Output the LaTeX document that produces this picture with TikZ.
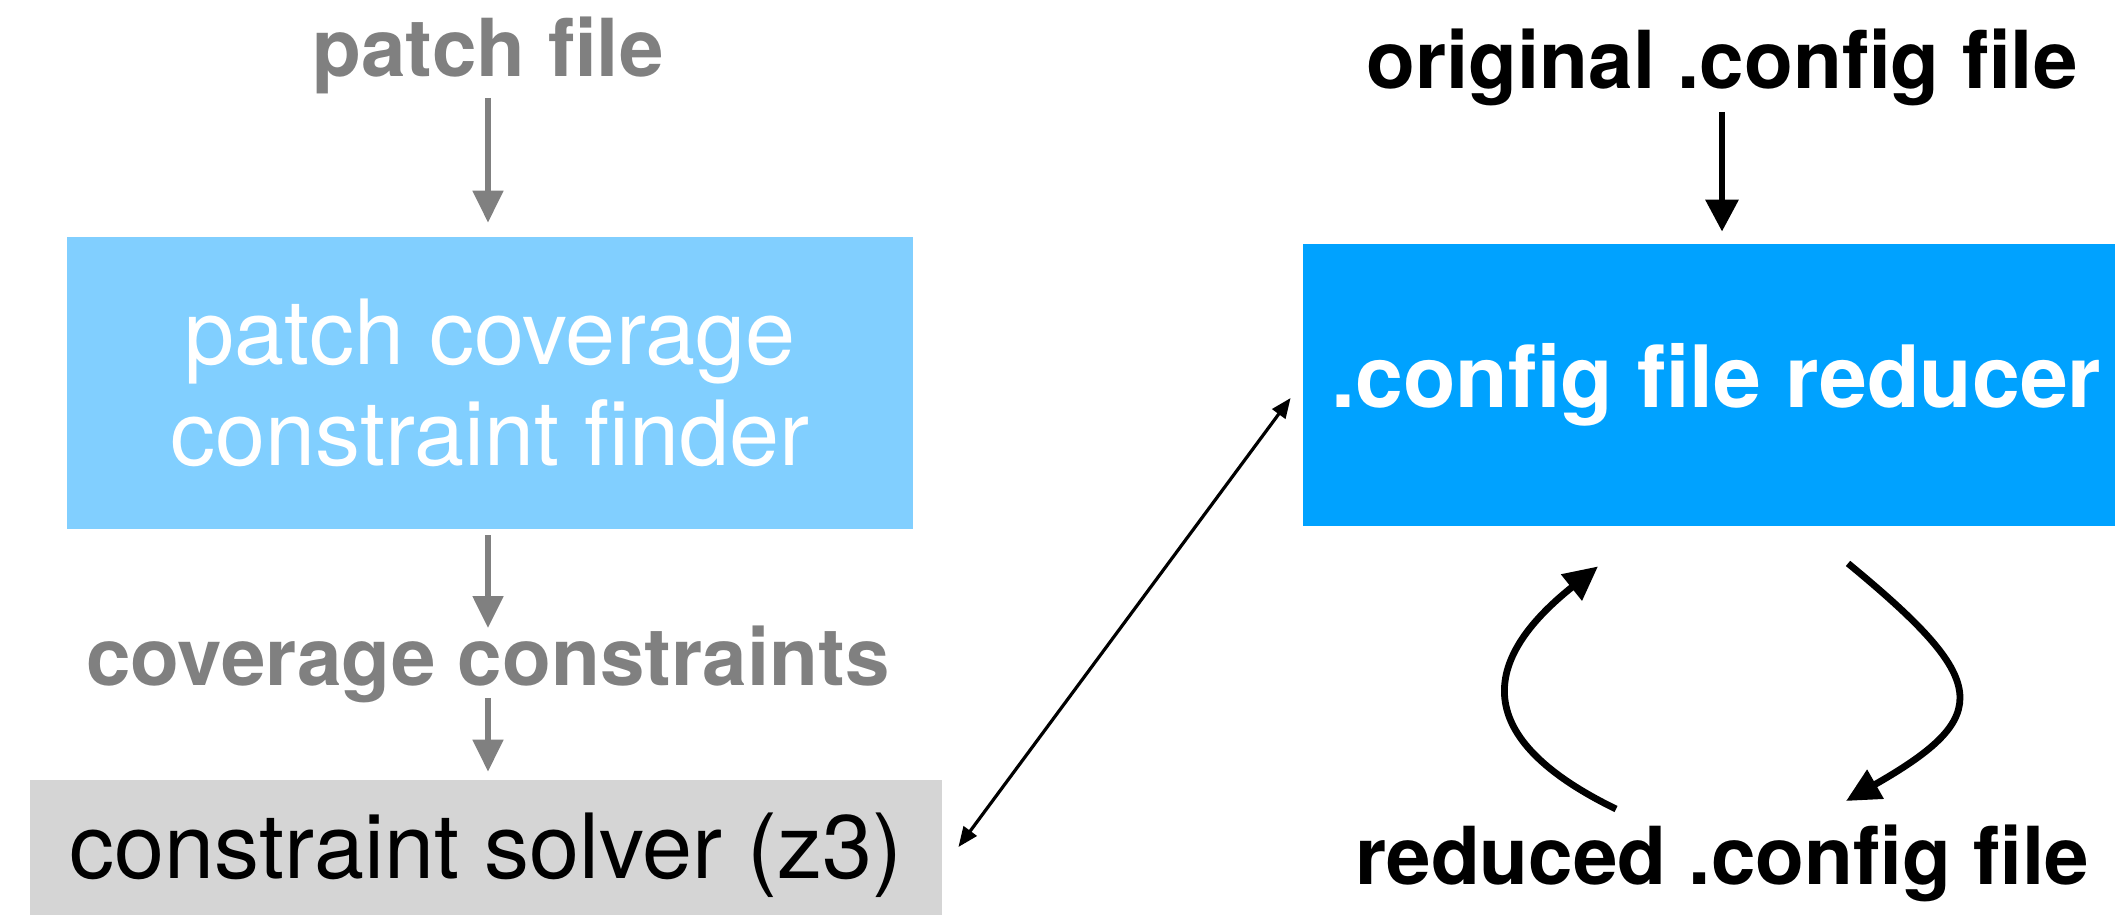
\documentclass[tikz,border=0pt]{standalone}
\usepackage{fontspec}
\setmainfont{TeX Gyre Heros}
\usepackage{tikz}
\usetikzlibrary{arrows.meta}

\definecolor{lightsky}{HTML}{81CFFF}
\definecolor{brightsky}{HTML}{00A2FF}
\definecolor{solvergray}{HTML}{D5D5D5}
\definecolor{labelgray}{HTML}{808080}

\begin{document}
\begin{tikzpicture}[x=0.5pt, y=-0.5pt,
  lbl/.style={inner sep=0pt, anchor=base, font=\fontsize{40}{48}\selectfont\bfseries},
  box/.style={inner sep=0pt, align=center, font=\fontsize{45}{50.5}\selectfont},
  garr/.style={-{Triangle[length=16pt, width=15pt]}, draw=labelgray, line width=2.6pt},
  barr/.style={-{Triangle[length=16pt, width=16pt]}, draw=black, line width=3.2pt},
  darr/.style={{Triangle[length=10pt, width=8pt]}-{Triangle[length=10pt, width=8pt]}, draw=black, line width=1.6pt},
  larr/.style={-{Triangle[length=17pt, width=16pt]}, draw=black, line width=3.4pt}]
\useasboundingbox (0,0) rectangle (2115,915);
% left column: patch side
\node[lbl, text=labelgray] (patchfile) at (488,77) {patch file};
\node[box, fill=lightsky, text=white, minimum width=423pt, minimum height=146pt] (finder) at (490,383) {patch coverage\\constraint finder};
\node[lbl, text=labelgray] (coverage) at (488,685) {coverage constraints};
\node[box, fill=solvergray, text=black, minimum width=456pt, minimum height=75pt] (solver) at (486,855) {constraint solver (z3)};
% right column: config side
\node[lbl] (original) at (1722,89) {original .config file};
\node[box, fill=brightsky, text=white, font=\fontsize{43}{48}\selectfont\bfseries, minimum width=413.5pt, minimum height=141pt] (reducer) at (1716.5,385) {.config file reducer};
\node[lbl] (reduced) at (1722,884) {reduced .config file};
\draw[garr] ([yshift=-1.5pt]patchfile.south) -- ([yshift=7pt]patchfile.south |- finder.north);
\draw[garr] ([yshift=-3pt]coverage.north |- finder.south) -- ([yshift=-1.5pt]coverage.north);
\draw[garr] ([yshift=2.5pt]coverage.south) -- ([yshift=4pt]coverage.south |- solver.north);
\draw[barr] ([yshift=-2.5pt]original.south) -- ([yshift=6pt]original.south |- reducer.north);
\draw[darr] ([xshift=8pt, yshift=4pt]solver.east) -- ([xshift=-6pt, yshift=-6.5pt]reducer.west);
% reduce loop
\draw[larr] ([shift={(-106,-15)}]reduced.north) .. controls +(-146,-71) and +(-118,94) .. ([shift={(-118.5,40)}]reducer.south);
\draw[larr] ([shift={(131.5,37)}]reducer.south) .. controls +(142,117) and +(149,-85) .. ([shift={(124,-23)}]reduced.north);
\end{tikzpicture}
\end{document}
